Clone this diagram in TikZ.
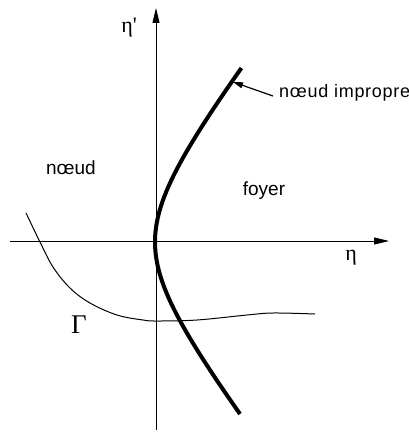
\documentclass[tikz,border=0pt]{standalone}
\usepackage{fontspec}
\setmainfont{Liberation Sans}
\newfontfamily\grk{Liberation Serif}
\newfontfamily\widesans[LetterSpace=4]{Liberation Sans}
\usetikzlibrary{arrows.meta}
\begin{document}
\begin{tikzpicture}[x=1pt,y=-1pt,
  axis/.style={line width=0.8pt,-{Triangle[length=15pt,width=7pt]}},
  lbl/.style={inner sep=0pt,font=\fontsize{19}{21}\selectfont},
  glbl/.style={inner sep=0pt,font=\grk\fontsize{22}{24}\selectfont}]
\useasboundingbox (0,0) rectangle (409,436);
\coordinate (xs) at (10,241);
\coordinate (xe) at (389,241);
\coordinate (ys) at (156,430);
\coordinate (ye) at (156,8);
\draw[axis] (xs) -- (xe);
\draw[axis] (ys) -- (ye);
\node[glbl] (etap) at (129,28) {η'};
\node[glbl] (eta) at (351,258) {η};
\node[glbl,font=\grk\fontsize{27}{28}\selectfont] (gam) at (79,325) {Γ};
\node[lbl] (noeud) at (71,168) {nœud};
\node[lbl] (foyer) at (264,191) {foyer};
\node[lbl,anchor=west,font=\widesans\fontsize{18}{20}\selectfont] (nimp) at (279,93) {nœud impropre};
\draw[line width=4pt] plot[domain=-174:172,samples=90,variable=\t] ({155+62*(sqrt(1+(\t/80)^2)-1)},{242+\t});
\coordinate (tip) at (233,82);
\draw[line width=1.2pt,-{Triangle[length=10pt,width=6pt]}] (nimp.west) ++(-6,3) -- (tip);
\draw[line width=1pt] plot[smooth,tension=0.6] coordinates {(26,213) (40,242) (53,267) (70,288) (90,303) (117,315) (143,320) (157,321) (197,320) (247,315) (273,313) (315,314)};
\end{tikzpicture}
\end{document}
